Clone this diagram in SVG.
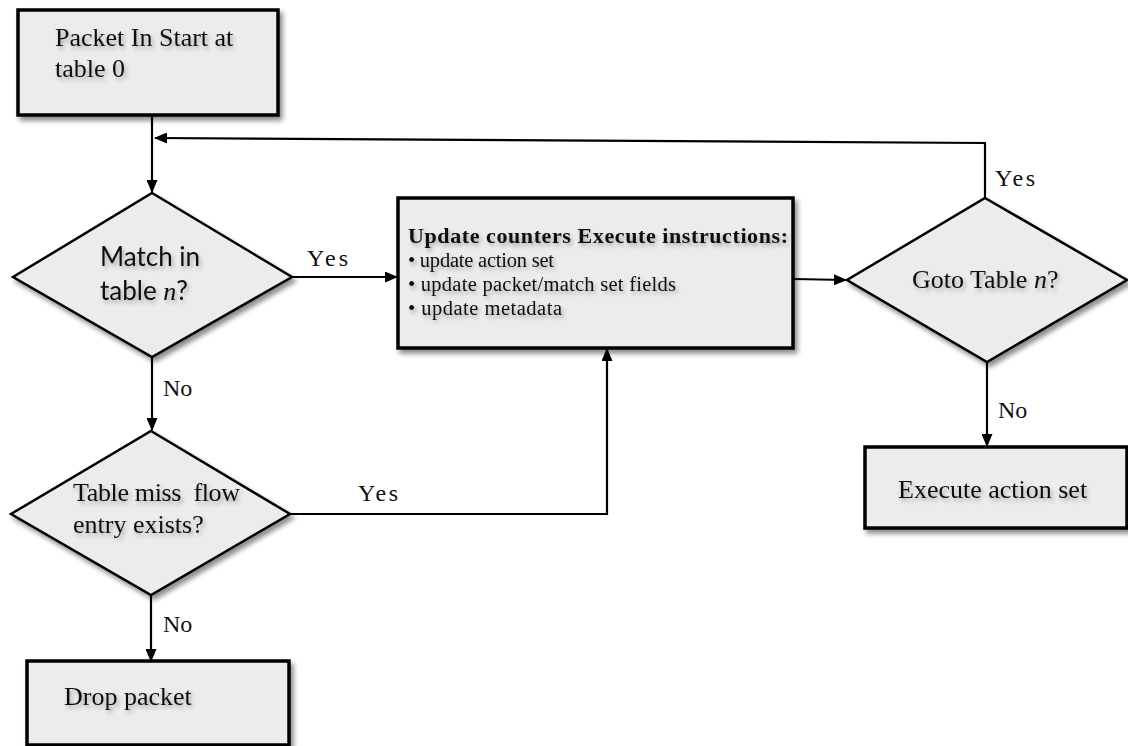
<svg xmlns="http://www.w3.org/2000/svg" width="1128" height="746" viewBox="0 0 1128 746">
<style>
.box{fill:#ececec;stroke:#000;stroke-width:3.5;filter:url(#sh)}
.dia{fill:#ececec;stroke:#000;stroke-width:2.5;filter:url(#sh)}
.t{font-family:"Liberation Serif",serif;font-size:26px;fill:#111;filter:url(#ts)}
.s{font-family:Lato,"Liberation Sans",sans-serif;font-size:26px;fill:#111;filter:url(#ts)}
.lab{font-family:"Liberation Serif",serif;font-size:24px;fill:#111}
.b{font-family:"Liberation Serif",serif;font-size:22px;font-weight:bold;fill:#111;filter:url(#ts)}
.bl{font-family:"Liberation Serif",serif;font-size:20.5px;fill:#111;filter:url(#ts)}
.c{fill:none;stroke:#000;stroke-width:2.2}
</style>
<defs>
<filter id="sh" x="-10%" y="-10%" width="125%" height="130%">
<feGaussianBlur in="SourceAlpha" stdDeviation="2.5"/>
<feOffset dx="3" dy="4" result="o"/>
<feComponentTransfer><feFuncA type="linear" slope="0.45"/></feComponentTransfer>
<feMerge><feMergeNode/><feMergeNode in="SourceGraphic"/></feMerge>
</filter>
<filter id="ts" x="-5%" y="-30%" width="115%" height="170%">
<feGaussianBlur in="SourceAlpha" stdDeviation="2"/>
<feOffset dx="2" dy="3"/>
<feComponentTransfer><feFuncA type="linear" slope="0.3"/></feComponentTransfer>
<feMerge><feMergeNode/><feMergeNode in="SourceGraphic"/></feMerge>
</filter>
<marker id="ar" viewBox="0 0 13 11" refX="12" refY="5.5" markerWidth="13" markerHeight="11" markerUnits="userSpaceOnUse" orient="auto">
<path d="M0,0 L13,5.5 L0,11 Z" fill="#000"/>
</marker>
</defs>

<g id="connectors">
<path class="c" d="M152,115 V192" marker-end="url(#ar)"/>
<path class="c" d="M985,198 V143 L155,138" marker-end="url(#ar)" stroke-width="1.6"/>
<path class="c" d="M292,277 H397" marker-end="url(#ar)"/>
<path class="c" d="M152,357 V430" marker-end="url(#ar)"/>
<path class="c" d="M290,514 H607 V349" marker-end="url(#ar)"/>
<path class="c" d="M151,595 V661" marker-end="url(#ar)"/>
<path class="c" d="M793,279 L846,280" marker-end="url(#ar)"/>
<path class="c" d="M987,362 V446" marker-end="url(#ar)"/>
<text class="lab" x="307" y="266" textLength="41" lengthAdjust="spacing">Yes</text>
<text class="lab" x="163" y="396">No</text>
<text class="lab" x="358" y="501" textLength="40" lengthAdjust="spacing">Yes</text>
<text class="lab" x="163" y="632">No</text>
<text class="lab" x="995" y="186" textLength="40" lengthAdjust="spacing">Yes</text>
<text class="lab" x="998" y="418">No</text>
</g>

<g id="start">
<rect class="box" x="18" y="10" width="260" height="105"/>
<text class="t" x="55" y="46">Packet In Start at</text>
<text class="t" x="55" y="77">table 0</text>
</g>

<g id="match">
<polygon class="dia" points="152,193 292,277 152,357 13,277"/>
<text class="s" x="100" y="266">Match in</text>
<text class="s" x="100" y="300">table <tspan font-family="Liberation Serif,serif" font-style="italic">n</tspan>?</text>
</g>

<g id="update">
<rect class="box" x="398" y="198" width="395" height="150"/>
<text class="b" x="408" y="243" textLength="380" lengthAdjust="spacing">Update counters Execute instructions:</text>
<text class="bl" x="408" y="267" textLength="146" lengthAdjust="spacing">• update action set</text>
<text class="bl" x="408" y="291" textLength="268" lengthAdjust="spacing">• update packet/match set fields</text>
<text class="bl" x="408" y="315" textLength="154" lengthAdjust="spacing">• update metadata</text>
</g>

<g id="goto">
<polygon class="dia" points="985,198 1127,280 987,362 847,280"/>
<text class="t" x="912" y="288">Goto Table <tspan font-style="italic">n</tspan>?</text>
</g>

<g id="tablemiss">
<polygon class="dia" points="151,431 290,514 151,595 11,514"/>
<text class="t" x="73" y="501" xml:space="preserve" textLength="167" lengthAdjust="spacing">Table miss  flow</text>
<text class="t" x="73" y="533">entry exists?</text>
</g>

<g id="drop">
<rect class="box" x="27" y="661" width="262" height="84"/>
<text class="t" x="64" y="705">Drop packet</text>
</g>

<g id="execute">
<rect class="box" x="865" y="447" width="262" height="81"/>
<text class="t" x="898" y="498">Execute action set</text>
</g>
</svg>
